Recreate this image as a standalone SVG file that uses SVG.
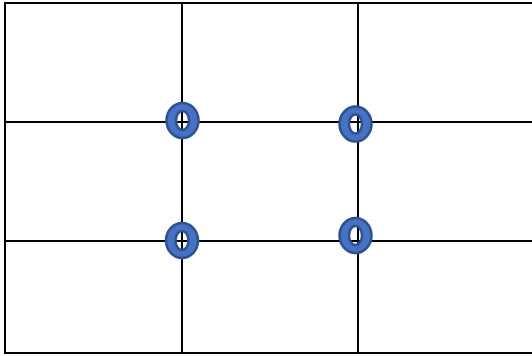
<svg xmlns="http://www.w3.org/2000/svg" width="532" height="356" viewBox="0 0 532 356">
<defs>
<style>
.grid{stroke:#000;stroke-width:2;fill:none}
.ring{fill:#4472C4;stroke:#2F528F;stroke-width:2.5;fill-rule:evenodd}
</style>
<path id="donut" class="ring" d="M-16,0 A16,17.5 0 1,0 16,0 A16,17.5 0 1,0 -16,0 Z M-6.5,0 A6.5,9.5 0 1,1 6.5,0 A6.5,9.5 0 1,1 -6.5,0 Z"/>
</defs>
<rect width="532" height="356" fill="#fff"/>
<g id="connectors">
<rect class="grid" x="5" y="3" width="540" height="350"/>
<line class="grid" x1="182" y1="3" x2="182" y2="353"/>
<line class="grid" x1="358" y1="3" x2="358" y2="353"/>
<line class="grid" x1="5" y1="122" x2="532" y2="122"/>
<line class="grid" x1="5" y1="241" x2="532" y2="241"/>
</g>
<g id="ring1"><use href="#donut" x="182.5" y="120.5"/></g>
<g id="ring2"><use href="#donut" x="355.5" y="124"/></g>
<g id="ring3"><use href="#donut" x="182" y="240.5"/></g>
<g id="ring4"><use href="#donut" x="355.5" y="235.5"/></g>
</svg>
